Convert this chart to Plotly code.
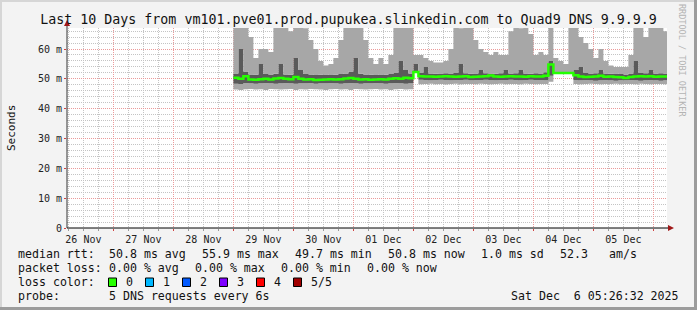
import plotly.graph_objects as go
import pandas as pd

# ---------------- data (ms), 2-hour bins starting 2025-11-29 00:00 ----------------
bin_start = "2025-11-29 00:00"
bin_freq = "2h"
range_start = "2025-11-26 05:26:32"
range_end = "2025-12-06 05:26:32"

rtt_max = [70, 70, 70, 64, 57, 60, 60, 59, 70, 70, 70, 66, 70, 68, 67, 63, 60, 56, 54.5, 55, 57, 63, 70,
           70, 68, 70, 63, 57, 55, 57, 55, 58, 70, 70, 68, 70, 58, 58, 57, 56, 55.5, 55.5, 56, 60, 70, 67,
           70, 70, 63, 60, 59, 58, 59, 58, 58, 66, 70, 67, 68, 65, 58, 59, 58, 70, 57, 56, 55,
           70, 70, 64, 62, 60, 57, 60, 56, 54.5, 54, 54, 54, 58, 68, 70, 64, 68, 70, 70, 66]

rtt_q3 = [51.8, 60, 52.5, 51.5, 51.4, 55, 51.6, 51.5, 51.7, 55, 51.5, 51.4, 57, 53, 51.6, 51.5, 51.3, 51.4,
          51.5, 51.3, 51.4, 51.6, 51.8, 52.5, 57, 51.7, 51.5, 51.4, 51.3, 51.5, 51.4, 51.6, 52, 56, 53, 51.8,
          55,
          52, 54, 51.8, 51.7, 51.8, 51.9, 51.8, 52, 55, 51.9, 51.7, 51.8, 53, 51.9, 51.8, 51.7, 51.9, 53, 51.8,
          51.9, 53, 51.8, 51.7, 51.9, 51.8, 52.2,
          56,
          52, 52, 52, 52,
          53,
          54, 52, 51.8, 51.9, 53, 51.8, 51.7, 51.8, 51.6, 51.5, 51.8, 56, 52, 51.9, 53, 51.8, 51.9, 51.8]

rtt_q1 = [48.4, 48.3, 48.6, 48.5, 48.4, 48.5, 48.6, 48.5, 48.4, 48.5, 48.6, 48.5, 48.4, 48.5, 48.5, 48.6,
          48.4, 48.5, 48.5, 48.6, 48.5, 48.4, 48.5, 48.6, 48.5, 48.4, 48.5, 48.5, 48.6, 48.5, 48.4, 48.5,
          48.6, 48.5, 48.4, 48.5,
          52,
          49.7, 49.6, 49.5, 49.6, 49.7, 49.6, 49.5, 49.6, 49.6, 49.7, 49.5, 49.6, 49.6, 49.7, 49.6, 49.5,
          49.6, 49.6, 49.7, 49.6, 49.5, 49.6, 49.7, 49.6, 49.6, 49.5,
          51,
          52, 52, 52, 52,
          49.6,
          49.5, 49.6, 49.5, 49.4, 49.5, 49.6, 49.5, 49.4, 49.5, 49.5, 49.6, 49.5, 49.4, 49.5, 49.6, 49.5,
          49.4, 49.5]

rtt_min = [46.4, 46.3, 46.5, 46.6, 46.4, 46.5, 46.3, 46.6, 46.5, 46.4, 46.5, 46.6, 46.3, 46.5, 46.4, 46.6,
           46.5, 46.4, 46.3, 46.5, 46.6, 46.4, 46.5, 46.3, 46.6, 46.5, 46.4, 46.5, 46.6, 46.4, 46.5, 46.3,
           46.5, 46.6, 46.4, 46.5,
           52,
           48.2, 48.3, 48.4, 48.2, 48.3, 48.1, 48.3, 48.4, 48.2, 48.3, 48.3, 48.2, 48.4, 48.3, 48.2, 48.3,
           48.4, 48.2, 48.3, 48.3, 48.2, 48.4, 48.3, 48.2, 48.3, 48.3,
           49,
           52, 52, 52, 52,
           48.3,
           48.2, 48.3, 48.4, 48.3, 48.2, 48.3, 48.3, 48.4, 48.2, 48.3, 48.3, 48.2, 48.4, 48.3, 48.2, 48.3,
           48.3, 48.2]

rtt_median = [50.4, 50.0, 50.9, 49.8, 49.7, 49.9, 50.0, 49.8, 50.1, 50.3, 50.0, 49.9, 50.6, 50.0, 49.8,
              49.9, 49.6, 49.7, 49.8, 49.9, 49.8, 49.9, 50.1, 50.3, 50.0, 49.8, 49.9, 49.7, 49.8, 49.9,
              49.8, 50.0, 50.2, 50.0, 50.4, 50.2,
              52.3,
              50.9, 50.8, 50.8, 50.7, 50.8, 50.9, 50.8, 50.7, 50.8, 50.9, 50.6, 50.7, 50.8, 50.9, 51.1,
              50.8, 50.7, 50.8, 50.9, 50.8, 50.8, 50.7, 50.9, 50.8, 50.8, 51.0,
              54.8,
              52.0, 52.0, 52.0, 52.0,
              51.2,
              50.8, 50.6, 50.7, 50.8, 51.0, 50.7, 50.8, 50.6, 50.5, 50.3, 50.6, 50.8, 50.9, 50.8, 50.9,
              50.7, 50.8, 50.8]

y_tickvals = [0, 10, 20, 30, 40, 50, 60]
y_ticktext = ["0", "10 m", "20 m", "30 m", "40 m", "50 m", "60 m"]

title_text = "Last 10 Days from vm101.pve01.prod.pupukea.slinkedin.com to Quad9 DNS 9.9.9.9"
stats_rtt = ["median rtt:", "50.8 ms avg", "55.9 ms max", "49.7 ms min", "50.8 ms now", "1.0 ms sd", "52.3", "am/s"]
stats_loss = ["packet loss:", "0.00 % avg", "0.00 % max", "0.00 % min", "0.00 % now"]
loss_labels = ["0", "1", "2", "3", "4", "5/5"]
loss_colors = ["#26ff00", "#00b8ff", "#0059ff", "#7e00ff", "#ff0000", "#a10000"]
probe_text = ["probe:", "5 DNS requests every 6s"]
stamp_text = "Sat Dec  6 05:26:32 2025"

# ---------------- geometry ----------------
W, H = 697, 310
L, T, PW, PH = 67, 28, 600, 200
R, B = W - L - PW, H - T - PH
MONO = "DejaVu Sans Mono"


def px(xp):
    return (xp - L) / PW


def py(yp):
    return (T + PH - yp) / PH


n = len(rtt_median)
times = list(pd.date_range(bin_start, periods=n, freq=bin_freq)) + [pd.Timestamp(range_end)]


def ext(a):
    return list(a) + [a[-1]]


fig = go.Figure()
common = dict(x=times, mode="lines", line=dict(width=0, shape="hv"), hoverinfo="skip", showlegend=False)
fig.add_trace(go.Scatter(y=ext(rtt_min), **common))
fig.add_trace(go.Scatter(y=ext(rtt_q1), fill="tonexty", fillcolor="#a7a7a7", **common))
fig.add_trace(go.Scatter(y=ext(rtt_q3), fill="tonexty", fillcolor="#5a5a5a", **common))
fig.add_trace(go.Scatter(y=ext(rtt_max), fill="tonexty", fillcolor="#a7a7a7", **common))
fig.add_trace(go.Scatter(x=times, y=ext(rtt_median), mode="lines",
                         line=dict(width=2.5, shape="hv", color=loss_colors[0]),
                         hoverinfo="skip", showlegend=False))

minor_grid = "#c4c4c4"
major_grid = "#eb9a9a"

fig.update_xaxes(
    type="date", range=[range_start, range_end],
    tick0="2025-11-26", dtick=86400000, tickformat="%d %b", ticklabelmode="period",
    showgrid=True, gridcolor=major_grid, griddash="1px,1px", gridwidth=1,
    ticks="outside", ticklen=2, tickcolor="#d04040",
    tickfont=dict(family=MONO, size=10, color="#222222"),
    minor=dict(dtick=6 * 3600000, tick0="2025-11-26", showgrid=True, gridcolor=minor_grid,
               griddash="1px,1px", ticks="outside", ticklen=2, tickcolor="#999999"),
    showline=False, zeroline=False, fixedrange=True,
)
fig.update_yaxes(
    range=[0, 67.05], tickvals=y_tickvals, ticktext=y_ticktext,
    showgrid=True, gridcolor=major_grid, griddash="1px,1px", gridwidth=1,
    ticks="outside", ticklen=2, tickcolor="#d04040",
    tickfont=dict(family=MONO, size=10, color="#222222"),
    minor=dict(dtick=2, showgrid=True, gridcolor=minor_grid, griddash="1px,1px"),
    showline=False, zeroline=False, fixedrange=True,
)

shapes = []
# axes lines with arrows
shapes.append(dict(type="line", xref="paper", yref="paper", x0=px(L), x1=px(L), y0=py(228), y1=py(22),
                   line=dict(color="#333333", width=1)))
shapes.append(dict(type="line", xref="paper", yref="paper", x0=px(L), x1=px(670), y0=py(228), y1=py(228),
                   line=dict(color="#000000", width=1)))
shapes.append(dict(type="path", xref="paper", yref="paper",
                   path=f"M {px(64)} {py(26)} L {px(70)} {py(26)} L {px(67)} {py(20)} Z",
                   fillcolor="#a01818", line=dict(width=0)))
shapes.append(dict(type="path", xref="paper", yref="paper",
                   path=f"M {px(668)} {py(225)} L {px(668)} {py(231)} L {px(674)} {py(228)} Z",
                   fillcolor="#a01818", line=dict(width=0)))
# frame
shapes.append(dict(type="rect", xref="paper", yref="paper", x0=px(694), x1=px(697), y0=py(0), y1=py(310),
                   fillcolor="#9c9c9c", line=dict(width=0), layer="above"))
shapes.append(dict(type="rect", xref="paper", yref="paper", x0=px(0), x1=px(697), y0=py(307), y1=py(310),
                   fillcolor="#9c9c9c", line=dict(width=0), layer="above"))
shapes.append(dict(type="rect", xref="paper", yref="paper", x0=px(0), x1=px(2), y0=py(0), y1=py(307),
                   fillcolor="#d6d6d6", line=dict(width=0), layer="above"))
shapes.append(dict(type="rect", xref="paper", yref="paper", x0=px(0), x1=px(694), y0=py(0), y1=py(2),
                   fillcolor="#d6d6d6", line=dict(width=0), layer="above"))

annotations = []


def txt(s, xp, yp, size=11.6, anchor="left", color="#111111", angle=0):
    annotations.append(dict(text=s, xref="paper", yref="paper", x=px(xp), y=py(yp), xanchor=anchor,
                            yanchor="middle", showarrow=False, textangle=angle,
                            font=dict(family=MONO, size=size, color=color)))


# legend rows
rtt_x = [16, 107, 200, 293, 386, 479, 558, 607]
for s, xp in zip(stats_rtt, rtt_x):
    txt(s, xp, 254)
loss_x = [16, 107, 193, 279, 365]
for s, xp in zip(stats_loss, loss_x):
    txt(s, xp, 268)
txt("loss color:", 16, 282)
for k, (lab, col) in enumerate(zip(loss_labels, loss_colors)):
    bx = 108.5 + 37 * k
    shapes.append(dict(type="rect", xref="paper", yref="paper", x0=px(bx), x1=px(bx + 8), y0=py(286.5),
                       y1=py(278), fillcolor=col, line=dict(color="#000000", width=1)))
    txt(lab, bx + 15, 282)
txt(probe_text[0], 16, 296)
txt(probe_text[1], 107, 296)
txt(stamp_text, 681, 296, anchor="right")
# axis title and watermark
txt("Seconds", 11, 128, size=11, anchor="center", angle=-90)
txt("RRDTOOL / TOBI OETIKER", 682, 60, size=8.5, anchor="center", color="#b4b4b4", angle=90)

fig.update_layout(
    width=W, height=H,
    margin=dict(l=L, r=R, t=T, b=B, pad=0),
    paper_bgcolor="#f3f3f3", plot_bgcolor="#ffffff",
    title=dict(text=title_text, x=0.5, xref="container", xanchor="center",
               y=1 - 19 / H, yref="container", yanchor="middle",
               font=dict(family=MONO, size=13.3, color="#111111")),
    shapes=shapes, annotations=annotations, showlegend=False,
)

fig.write_html("out.html")
